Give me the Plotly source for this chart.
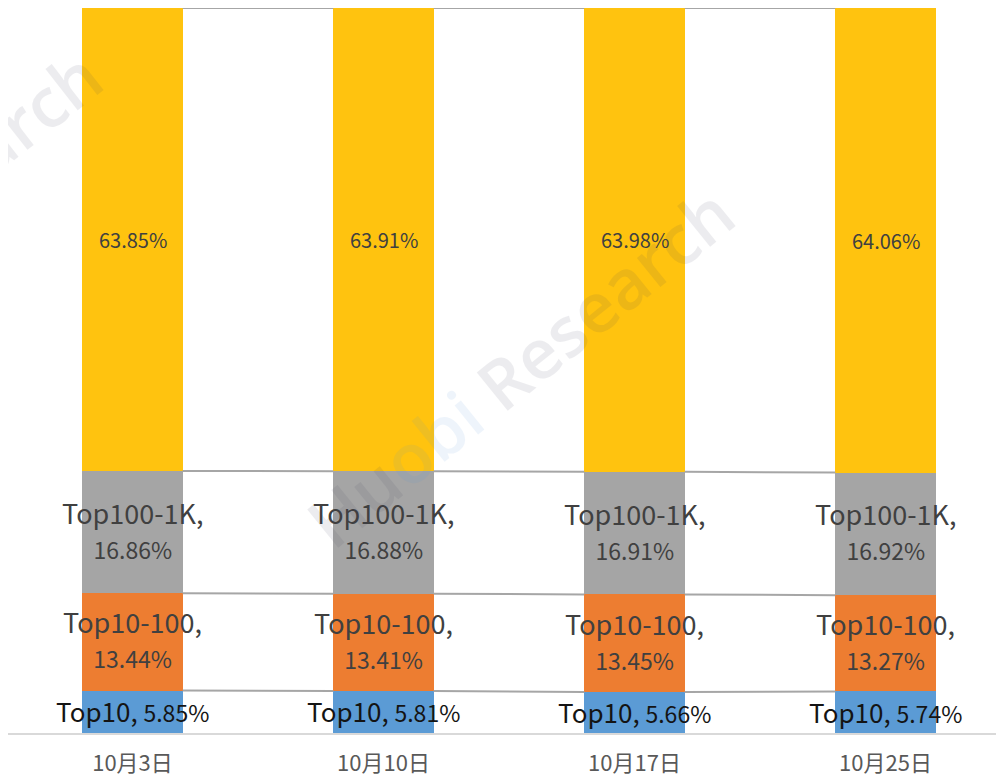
import plotly.graph_objects as go

categories = ["10月3日", "10月10日", "10月17日", "10月25日"]
series_names = ["Top10", "Top10-100", "Top100-1K", "Others"]
top10 = [5.85, 5.81, 5.66, 5.74]
top10_100 = [13.44, 13.41, 13.45, 13.27]
top100_1k = [16.86, 16.88, 16.91, 16.92]
others = [63.85, 63.91, 63.98, 64.06]

colors = ["#5B9BD5", "#ED7D31", "#A5A5A5", "#FFC30F"]
FONT = "Noto Sans CJK SC"
xs = list(range(len(categories)))
BW = 0.4

fig = go.Figure()
all_series = [top10, top10_100, top100_1k, others]

for vals, col, name in zip(all_series, colors, series_names):
    fig.add_trace(go.Bar(
        x=xs, y=vals, width=BW, name=name,
        marker=dict(color=col, line=dict(width=0)),
        hoverinfo="skip",
    ))

# series lines between bars (cumulative tops)
cum = [0.0] * len(xs)
lx, ly = [], []
bases = []
for vals in all_series:
    bases.append(list(cum))
    cum = [c + v for c, v in zip(cum, vals)]
    for i in range(len(xs) - 1):
        lx += [xs[i] + BW / 2, xs[i + 1] - BW / 2, None]
        ly += [cum[i], cum[i + 1], None]
fig.add_trace(go.Scatter(x=lx, y=ly, mode="lines",
                         line=dict(color="#A6A6A6", width=2),
                         hoverinfo="skip", showlegend=False, cliponaxis=False))

# data labels
def pspan(t, size):
    return f"<span style='font-size:{size}px'>{t}</span>"

for s, vals in enumerate(all_series):
    for i, v in enumerate(vals):
        mid = bases[s][i] + v / 2
        ys = 0
        if s == 0:
            txt = f"{series_names[s]}, " + pspan(f"{v:.2f}%", 23)
            fnt = dict(family=FONT, size=26, color="#141414")
            ys = 1
        elif s in (1, 2):
            txt = f"{series_names[s]},<br>" + pspan(f"{v:.2f}%", 23)
            fnt = dict(family=FONT, size=27, color="#404040")
            ys = 3
        else:
            txt = f"{v:.2f}%"
            fnt = dict(family=FONT, size=20, color="#404040")
        fig.add_annotation(x=xs[i], y=mid, xref="x", yref="y", text=txt,
                           showarrow=False, font=fnt, align="center", yshift=ys)

# watermark
fig.add_annotation(x=0.514, y=0.506, xref="paper", yref="paper",
                   text="Hu<span style='color:#4a90dc'>obi</span> Research",
                   showarrow=False, textangle=-39, opacity=0.09,
                   font=dict(family="Open Sans", size=69, color="#3c3c5a", weight=600))
fig.add_annotation(x=-0.396, y=85.8, xref="x", yref="y",
                   text="arch", showarrow=False, textangle=-38, opacity=0.09,
                   font=dict(family="Open Sans", size=69, color="#3c3c5a", weight=600))

fig.update_layout(
    width=996, height=770,
    margin=dict(l=0, r=0, t=0, b=45),
    barmode="stack",
    showlegend=False,
    plot_bgcolor="white", paper_bgcolor="white",
    xaxis=dict(range=[-0.496, 3.472], tickvals=xs, ticktext=categories,
               showline=True, linecolor="#D9D9D9", linewidth=2,
               showgrid=False, zeroline=False, ticks="", automargin=False,
               tickfont=dict(family=FONT, size=22, color="#595959"),
               ticklabelstandoff=10),
    yaxis=dict(range=[0, 100], visible=False, showgrid=False, zeroline=False,
               automargin=False),
)

fig.write_html("out.html")
